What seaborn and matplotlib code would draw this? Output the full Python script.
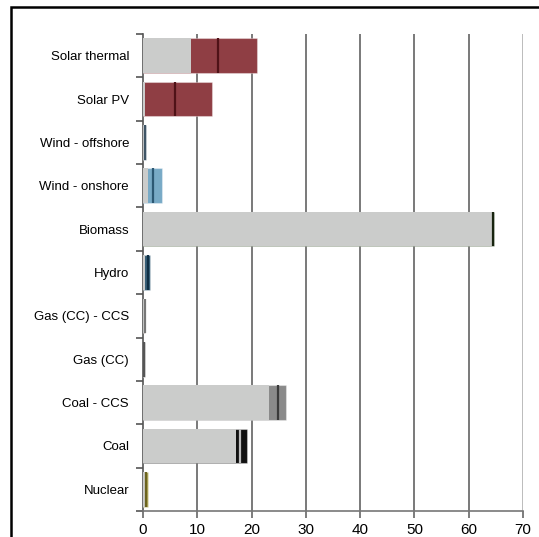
import matplotlib
matplotlib.use("Agg")
import matplotlib.pyplot as plt
from matplotlib.patches import Rectangle
import seaborn as sns
import pandas as pd

technologies = ["Solar thermal", "Solar PV", "Wind - offshore", "Wind - onshore",
                "Biomass", "Hydro", "Gas (CC) - CCS", "Gas (CC)", "Coal - CCS",
                "Coal", "Nuclear"]
low_values = [8.9, 0.4, 0.15, 1.0, 64.4, 0.3, 0.3, 0.0, 23.3, 17.2, 0.4]
high_values = [21.0, 12.8, 0.5, 3.5, 64.6, 1.3, 0.45, 0.37, 26.4, 19.1, 0.85]
mid_values = [13.8, 5.9, 0.3, 1.8, 64.5, 0.95, 0.38, 0.2, 24.8, 17.95, 0.6]
x_ticks = [0, 10, 20, 30, 40, 50, 60, 70]

range_colors = ["#9c3039", "#9c3039", "#6f8a9c", "#6badd3", "#3a5a2a", "#2e6383",
                "#8c7070", "#8a8a8a", "#8a8a8a", "#111111", "#b9ad45"]
mid_colors = ["#4f1217", "#4f1217", "#3f5566", "#2c5873", "#18240f", "#0f2f44",
              "#777777", "#555555", "#3a3a3a", "#bdbdbd", "#6b6320"]
base_gray = "#cbcccb"

df = pd.DataFrame({"tech": technologies, "low": low_values,
                   "high": high_values, "mid": mid_values})

plt.rcParams["font.family"] = ["Liberation Sans", "DejaVu Sans"]
fig = plt.figure(figsize=(5.39, 5.37), dpi=100)
ax = fig.add_axes([143 / 539, 1 - 511 / 537, (523 - 143) / 539, (511 - 34) / 537])

# coloured range bars (0 -> high), then the grey base (0 -> low) on top
sns.barplot(data=df, y="tech", x="high", hue="tech", order=technologies,
            palette=dict(zip(technologies, range_colors)), legend=False,
            width=0.8, orient="h", ax=ax, linewidth=0.8,
            edgecolor=(1, 1, 1, 0.35), zorder=3)
sns.barplot(data=df, y="tech", x="low", order=technologies, color=base_gray,
            saturation=1, width=0.8, orient="h", ax=ax, linewidth=0,
            zorder=4)

# mid-point markers inside each range bar
for i, (m, c) in enumerate(zip(mid_values, mid_colors)):
    ax.plot([m, m], [i - 0.4, i + 0.4], color=c, lw=1.6, zorder=5,
            solid_capstyle="butt")

ax.set_xlim(0, 70)
ax.set_ylim(10.5, -0.5)
ax.set_xticks(x_ticks)
ax.set_xticklabels([str(t) for t in x_ticks], fontsize=11)
ax.set_xlabel("")
ax.set_ylabel("")

# vertical gridlines
for t in x_ticks[1:]:
    ax.axvline(t, color="#aaaaaa" if t == 70 else "#555555", lw=1.1, zorder=1)

# category separators as outward ticks on the left spine
ax.set_yticks(range(len(technologies)))
ax.set_yticklabels(technologies, fontsize=9.5)
ax.set_yticks([i - 0.5 for i in range(len(technologies) + 1)], minor=True)
ax.tick_params(axis="y", which="major", length=0, pad=10)
ax.tick_params(axis="y", which="minor", length=5, width=1.2, color="#555555")
ax.tick_params(axis="x", which="major", length=5, width=1.2, color="#666666",
               pad=4)

for side in ["top", "right"]:
    ax.spines[side].set_visible(False)
ax.spines["left"].set_color("#555555")
ax.spines["left"].set_linewidth(1.2)
ax.spines["bottom"].set_color("#777777")
ax.spines["bottom"].set_linewidth(1.2)
ax.set_facecolor("white")

# outer frame
fig.patches.append(Rectangle((11.0 / 539, -0.2), 1.0, 1.2 - 6.5 / 537,
                             transform=fig.transFigure, fill=False,
                             edgecolor="black", lw=1.8))

fig.savefig("out.png", dpi=100)
